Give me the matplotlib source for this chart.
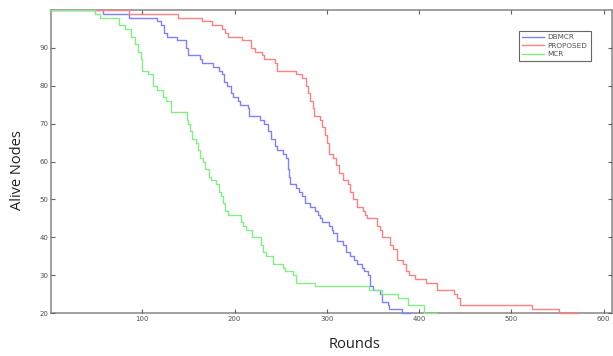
import matplotlib.pyplot as plt

# step data: round at which each value starts
mcr_x = [0, 49, 54, 75, 81, 88, 92, 95, 98, 100, 106, 112, 116, 122, 126, 131, 148, 150,
         152, 154, 158, 160, 163, 166, 168, 172, 174, 180, 183, 185, 187, 190, 193, 207,
         209, 212, 219, 229, 231, 234, 242, 252, 255, 263, 266, 287, 346, 360, 377, 388,
         405, 419]
mcr_y = [100, 99, 98, 96, 95, 93, 91, 89, 87, 84, 83, 80, 79, 77, 76, 73, 71, 70,
         68, 66, 65, 63, 61, 60, 58, 56, 55, 54, 52, 51, 49, 47, 46, 44,
         43, 42, 40, 38, 36, 35, 33, 32, 31, 30, 28, 27, 26, 25, 24, 22,
         20, 20]

dbmcr_x = [0, 57, 85, 116, 120, 124, 127, 138, 147, 150, 163, 165, 177, 183, 186, 189,
           192, 196, 198, 204, 206, 214, 216, 228, 232, 236, 239, 244, 246, 252, 256,
           258, 259, 260, 266, 270, 273, 276, 282, 287, 290, 292, 295, 302, 305, 307,
           311, 318, 321, 325, 329, 333, 338, 340, 345, 347, 350, 358, 360, 366, 367,
           381, 390]
dbmcr_y = [100, 99, 98, 97, 96, 94, 93, 92, 90, 88, 87, 86, 85, 84, 83, 81,
           80, 78, 77, 76, 75, 74, 72, 71, 70, 68, 66, 64, 63, 62, 61,
           58, 56, 54, 53, 52, 51, 49, 48, 47, 46, 45, 44, 43, 42, 41,
           39, 38, 36, 35, 34, 33, 32, 31, 30, 27, 26, 25, 23, 22, 21,
           20, 20]

proposed_x = [0, 85, 139, 165, 175, 186, 190, 193, 208, 218, 222, 230, 232, 244, 246,
              266, 273, 277, 279, 282, 285, 286, 293, 295, 298, 300, 302, 307, 310, 313,
              317, 323, 325, 328, 333, 339, 341, 344, 354, 358, 360, 368, 372, 376, 383,
              386, 389, 396, 407, 419, 438, 441, 444, 522, 552, 572]
proposed_y = [100, 99, 98, 97, 96, 95, 94, 93, 92, 90, 89, 88, 87, 86, 84,
              83, 82, 80, 78, 76, 74, 72, 71, 69, 67, 65, 62, 61, 59, 57,
              55, 54, 52, 50, 48, 47, 46, 45, 43, 42, 40, 38, 37, 34, 33,
              31, 30, 29, 28, 26, 25, 24, 22, 21, 20, 20]

x_ticks = [100, 200, 300, 400, 500, 600]
y_ticks = [20, 30, 40, 50, 60, 70, 80, 90]

fig = plt.figure(figsize=(6.13, 3.56), dpi=100)
ax = fig.add_axes([51 / 613, 43 / 356, 561 / 613, 303 / 356])

ax.step(dbmcr_x, dbmcr_y, where='post', color='#8080ff', linewidth=1, label='DBMCR', clip_on=False)
ax.step(proposed_x, proposed_y, where='post', color='#ff8080', linewidth=1, label='PROPOSED', clip_on=False)
ax.step(mcr_x, mcr_y, where='post', color='#80f080', linewidth=1, label='MCR', clip_on=False)

ax.set_xlim(1, 609)
ax.set_ylim(20, 100)
ax.set_xticks(x_ticks)
ax.set_yticks(y_ticks)
ax.tick_params(direction='in', top=True, right=True, labelsize=5, length=3,
               colors='#606060', labelcolor='#505050', pad=2)
for spine in ax.spines.values():
    spine.set_color('#909090')
    spine.set_linewidth(1.2)
    spine.set_zorder(1)

leg = ax.legend(loc='upper left', bbox_to_anchor=(0.834, 0.931), borderaxespad=0,
                fontsize=5.2, fancybox=False, handlelength=3, labelspacing=0.35,
                borderpad=0.45, handletextpad=0.5)
leg.get_frame().set_edgecolor('#404040')
leg.get_frame().set_linewidth(0.8)
for t in leg.get_texts():
    t.set_color('#505050')

fig.text(355 / 613, 1 - 345 / 356, 'Rounds', ha='center', va='center',
         fontsize=10.5, family='Open Sans', color='#202020')
fig.text(18 / 613, 1 - 170 / 356, 'Alive Nodes', ha='center', va='center',
         rotation=90, fontsize=10.5, family='Open Sans', color='#202020')

plt.savefig('out.png', dpi=100)
